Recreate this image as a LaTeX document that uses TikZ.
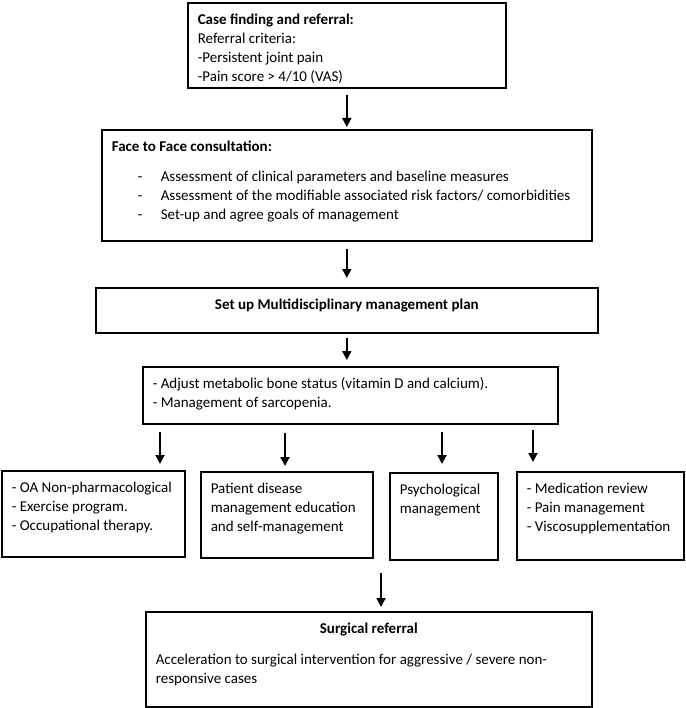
\documentclass[tikz,border=0pt]{standalone}
\usepackage{fontspec}
\setmainfont{Carlito}
\usepackage{tikz}
\usetikzlibrary{calc, arrows.meta}
\tikzstyle{box}=[draw, line width=1.6pt, anchor=north west, inner xsep=10pt, inner ysep=8pt, font=\fontsize{15}{19}\selectfont]
\tikzstyle{arr}=[line width=1.8pt, -{Triangle[length=9pt,width=9pt]}]
\newcommand{\cell}[3]{\begin{minipage}[t][#2][t]{#1}\strut #3\end{minipage}}
\newcommand{\itm}{\hspace*{26pt}\makebox[23pt][l]{-}}

\begin{document}
\begin{tikzpicture}[x=1pt,y=-1pt]
\useasboundingbox (0,0) rectangle (685,708);
\node[box] (case) at (187,2) {\cell{298pt}{69pt}{\textbf{Case finding and referral:}\\
  Referral criteria:\\ -Persistent joint pain\\ -Pain score > 4/10 (VAS)}};
\node[box] (consult) at (101,129) {\cell{470pt}{95pt}{\textbf{Face to Face consultation:}\\[11pt]
  \itm Assessment of clinical parameters and baseline measures\\
  \itm Assessment of the modifiable associated risk factors/ comorbidities\\
  \itm Set-up and agree goals of management}};
\node[box] (mdt) at (95,287) {\cell{482pt}{29pt}{\centering\textbf{Set up Multidisciplinary management plan}}};
\node[box] (bone) at (142,366) {\cell{395pt}{41pt}{- Adjust metabolic bone status (vitamin D and calcium).\\
  - Management of sarcopenia.}};
% second row
\node[box] (nonpharm) at (1,470) {\cell{163pt}{70pt}{- OA Non-pharmacological\\ - Exercise program.\\ - Occupational therapy.}};
\node[box] (educ) at (200,471) {\cell{152pt}{70pt}{Patient disease\\ management education\\ and self-management}};
\node[box] (psych) at (389,472) {\cell{88pt}{71pt}{Psychological\\ management}};
\node[box] (meds) at (516,471) {\cell{147pt}{72pt}{- Medication review\\ - Pain management\\ - Viscosupplementation}};
\node[box] (surg) at (145,611) {\cell{426pt}{79pt}{\centerline{\textbf{Surgical referral}}\\[12pt]
  Acceleration to surgical intervention for aggressive / severe non-\\ responsive cases}};
\coordinate (split) at (381,573);

\draw[arr, shorten <=6pt, shorten >=2pt] (case.south) -- (consult.north);
\draw[arr, shorten <=7pt, shorten >=9pt] (consult.south) -- (mdt.north);
\draw[arr, shorten <=4pt, shorten >=6pt] (mdt.south) -- (mdt.south |- bone.north);
\draw[arr, shorten <=7pt, shorten >=6pt] (bone.south -| 160,0) -- (nonpharm.north -| 160,0);
\draw[arr, shorten <=8pt, shorten >=5pt] (bone.south -| 285,0) -- (educ.north -| 285,0);
\draw[arr, shorten <=7pt, shorten >=8pt] (bone.south -| 442,0) -- (psych.north -| 442,0);
\draw[arr, shorten <=5pt, shorten >=9pt] (bone.south -| 533,0) -- (meds.north -| 533,0);
\draw[arr, shorten >=4pt] (split) -- (surg.north -| split);
\end{tikzpicture}
\end{document}
